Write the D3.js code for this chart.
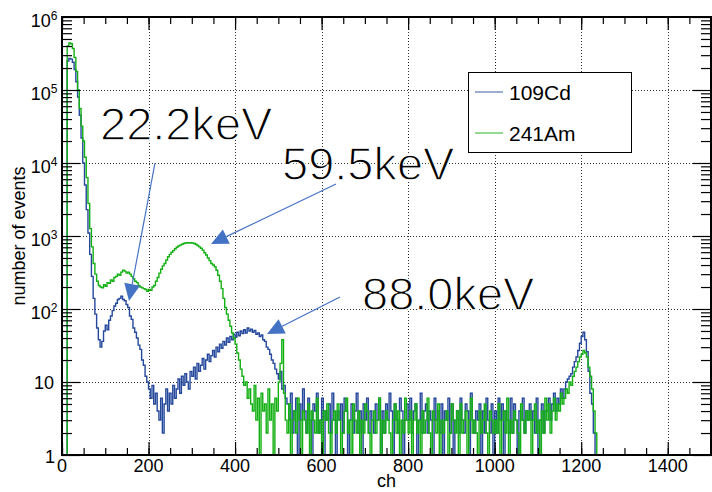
<!DOCTYPE html>
<html><head><meta charset="utf-8">
<script src="https://cdn.jsdelivr.net/npm/d3@7"></script>
<style>body{margin:0;background:#fff}</style>
</head><body>
<svg id="c" width="712" height="492"></svg>
<script>
// ---------- data ----------
const binWidth = 4;           // channels per bin (bin i starts at i*binWidth)
const xMax = 1500;
const seriesNames = ["109Cd", "241Am"];
const seriesColors = ["#25489c", "#12b012"];

const cdCounts = [
  0,0,0,2.5e5,2.7e5,2.65e5,2.4e5,1.9e5,1.3e5,8.0e4,
  4.5e4,2.2e4,1.0e4,5.0e3,2.3e3,1.1e3,560,280,140,85,
  55,38,30,36,50,60,52,70,80,95,
  110,120,135,140,150,135,130,115,105,80,
  72,55,48,40,32,28,20,17,12,10,
  8,6,9,5,7,4,3,6,2,5,
  8,4,7,5,9,6,8,11,7,12,
  9,13,10,8,14,12,16,11,18,14,
  17,21,15,20,24,19,23,27,22,30,
  26,33,29,36,32,40,35,42,38,45,
  41,48,43,50,46,52,47,55,50,53,
  48,51,45,47,42,44,38,36,30,28,
  24,20,18,15,13,11,14,8,9,6,
  5,3,7,2,4,6,1,5,3,8,
  4,2,6,3,1,5,4,7,2,3,
  6,1,4,3,5,2,7,3,1,4,
  3,5,2,6,4,1,3,5,2,4,
  7,2,4,1,5,3,6,2,4,3,
  2,5,3,6,1,4,2,5,3,7,
  4,1,5,3,2,6,4,1,3,5,
  3,6,2,4,5,1,3,7,2,4,
  5,2,4,3,1,6,3,4,2,5,
  1,4,3,6,2,5,1,3,4,2,
  6,3,2,5,4,1,7,3,2,4,
  3,5,1,4,2,6,3,2,5,1,
  4,2,6,3,5,1,4,3,2,6,
  2,5,3,1,4,3,6,2,4,3,
  5,3,4,2,6,1,3,5,2,4,
  4,6,3,5,7,4,6,5,8,6,
  8,10,11,12,13,16,19,22,27,34,
  42,48,38,26,14,7,5,2,1,0,
  0
];

const amCounts = [
  0,0,0,4.0e5,4.4e5,4.3e5,3.7e5,2.8e5,1.8e5,1.0e5,
  5.6e4,3.2e4,2.0e4,1.2e4,6.3e3,2.8e3,1.26e3,710,420,300,
  240,210,200,195,215,205,230,225,250,240,
  270,280,300,290,320,340,330,310,320,300,
  280,260,240,230,210,200,195,190,185,175,
  185,180,200,210,240,270,310,350,390,420,
  470,520,560,600,630,670,700,730,750,770,
  790,800,810,800,810,800,790,770,740,710,
  680,640,590,550,500,460,420,400,380,340,
  290,240,190,140,105,85,70,58,47,40,
  33,25,20,15,12,9,10,6,8,5,
  4,9,3,6,1,7,4,5,2,8,
  3,5,1,6,4,10,18,38,7,3,
  2,5,1,3,4,2,6,3,1,4,
  3,2,5,1,4,3,2,6,2,3,
  1,4,3,5,2,1,3,4,2,5,
  3,1,2,4,6,2,3,1,5,3,
  2,4,1,3,2,5,4,2,1,3,
  4,2,3,6,1,3,2,4,3,2,
  1,3,5,2,4,1,3,2,6,3,
  2,4,1,3,5,2,3,1,4,2,
  3,6,2,1,4,3,2,5,1,3,
  2,3,4,1,2,5,3,2,4,1,
  5,2,3,4,1,3,6,2,3,2,
  1,4,2,3,5,2,1,4,3,2,
  3,2,5,1,3,4,2,6,1,3,
  2,4,3,2,1,5,3,2,4,3,
  4,1,3,5,2,3,1,4,2,6,
  3,5,2,4,6,3,5,4,7,5,
  6,8,7,10,9,12,14,16,19,22,
  24,27,25,22,16,12,8,4,2,1,
  0
];

const xTickValues = [0,200,400,600,800,1000,1200,1400];
const yTickExponents = [0,1,2,3,4,5,6];
const annotationTexts = ["22.2keV", "59.5keV", "88.0keV"];

// ---------- layout ----------
const svg = d3.select("#c");
const L = 62, R = 711, T = 17, B = 455;
const x = d3.scaleLinear().domain([0, xMax]).range([L, R]);
const y = d3.scaleLog().domain([1, 1e6]).range([B, T]);
const FONT = "'Liberation Sans', Arial, Helvetica, sans-serif";

svg.append("rect").attr("width", 712).attr("height", 492).attr("fill", "#fff");

// grid
const gridG = svg.append("g").attr("stroke", "#333").attr("stroke-width", 1)
  .attr("stroke-dasharray", "1,2");
xTickValues.filter(v => v > 0).forEach(v => {
  const px = Math.round(x(v)) + 0.5;
  gridG.append("line").attr("x1", px).attr("x2", px).attr("y1", T).attr("y2", B);
});
yTickExponents.filter(e => e > 0 && e < 6).forEach(e => {
  const py = Math.round(y(Math.pow(10, e))) + 0.5;
  gridG.append("line").attr("x1", L).attr("x2", R).attr("y1", py).attr("y2", py);
});

// data
svg.append("clipPath").attr("id", "clip").append("rect")
  .attr("x", L).attr("y", T).attr("width", R - L).attr("height", B - T + 1);

function toPoints(arr) {
  const pts = arr.map((v, i) => ({ ch: i * binWidth, v }));
  pts.push({ ch: xMax, v: 0 });
  return pts;
}
const line = d3.line()
  .x(d => x(d.ch))
  .y(d => y(Math.max(d.v, 1)))
  .curve(d3.curveStepAfter);

const dataG = svg.append("g").attr("clip-path", "url(#clip)");
[cdCounts, amCounts].forEach((arr, k) => {
  dataG.append("path").datum(toPoints(arr))
    .attr("d", line)
    .attr("fill", "none")
    .attr("stroke", seriesColors[k])
    .attr("stroke-width", 1.4);
});

// axes (ticks inside)
const minorX = d3.range(0, xMax + 1, 50);
const majorY = yTickExponents.map(e => Math.pow(10, e));
const minorY = [];
for (let e = 0; e < 6; e++) for (let m = 2; m <= 9; m++) minorY.push(m * Math.pow(10, e));

function styleAxis(g) {
  g.select(".domain").remove();
  g.selectAll("line").attr("stroke", "#000").attr("stroke-width", 1.2);
  g.selectAll("text").remove();
}
svg.append("g").attr("transform", `translate(0,${B})`)
  .call(d3.axisBottom(x).tickValues(minorX).tickSize(-7)).call(styleAxis);
svg.append("g").attr("transform", `translate(0,${B})`)
  .call(d3.axisBottom(x).tickValues(xTickValues).tickSize(-13)).call(styleAxis);
svg.append("g").attr("transform", `translate(0,${T})`)
  .call(d3.axisTop(x).tickValues(minorX).tickSize(-7)).call(styleAxis);
svg.append("g").attr("transform", `translate(0,${T})`)
  .call(d3.axisTop(x).tickValues(xTickValues).tickSize(-13)).call(styleAxis);
svg.append("g").attr("transform", `translate(${L},0)`)
  .call(d3.axisLeft(y).tickValues(minorY).tickSize(-10)).call(styleAxis);
svg.append("g").attr("transform", `translate(${L},0)`)
  .call(d3.axisLeft(y).tickValues(majorY).tickSize(-18)).call(styleAxis);
svg.append("g").attr("transform", `translate(${R},0)`)
  .call(d3.axisRight(y).tickValues(minorY).tickSize(-10)).call(styleAxis);
svg.append("g").attr("transform", `translate(${R},0)`)
  .call(d3.axisRight(y).tickValues(majorY).tickSize(-18)).call(styleAxis);

// frame
svg.append("rect").attr("x", L).attr("y", T).attr("width", R - L).attr("height", B - T)
  .attr("fill", "none").attr("stroke", "#000").attr("stroke-width", 2);

// tick labels
xTickValues.forEach(v => {
  svg.append("text").attr("x", x(v)).attr("y", 472)
    .attr("text-anchor", "middle").attr("font-family", FONT).attr("font-size", 18)
    .attr("fill", "#000").text(v);
});
yTickExponents.forEach(e => {
  const py = y(Math.pow(10, e));
  const t = svg.append("text").attr("font-family", FONT).attr("font-size", 18)
    .attr("fill", "#000").attr("text-anchor", "end");
  if (e === 0) { t.attr("x", 55).attr("y", py + 8).text("1"); }
  else if (e === 1) { t.attr("x", 54).attr("y", py + 7).text("10"); }
  else {
    t.attr("x", 57.5).attr("y", py + 9.5);
    t.append("tspan").text("10");
    t.append("tspan").attr("font-size", 12).attr("dy", -7).text(e);
  }
});

// axis titles
svg.append("text").attr("x", (L + R) / 2).attr("y", 487).attr("text-anchor", "middle")
  .attr("font-family", FONT).attr("font-size", 18).text("ch");
svg.append("text").attr("transform", `translate(25,${(T + B) / 2}) rotate(-90)`)
  .attr("text-anchor", "middle").attr("font-family", FONT).attr("font-size", 18)
  .text("number of events");

// legend
const lg = svg.append("g");
lg.append("rect").attr("x", 468.5).attr("y", 72.5).attr("width", 163).attr("height", 80)
  .attr("fill", "#fff").attr("stroke", "#000").attr("stroke-width", 1);
seriesNames.forEach((name, k) => {
  const ly = k === 0 ? 92 : 133;
  lg.append("line").attr("x1", 475).attr("x2", 503).attr("y1", ly).attr("y2", ly)
    .attr("stroke", seriesColors[k]).attr("stroke-width", 1.2).attr("opacity", 0.75);
  lg.append("text").attr("x", 509).attr("y", ly + 7.5).attr("font-family", FONT)
    .attr("font-size", 21).attr("fill", "#000").text(name);
});

// annotations
const annoPos = [[100, 140], [282, 180], [362, 310]];
annotationTexts.forEach((t, i) => {
  svg.append("text").attr("x", annoPos[i][0]).attr("y", annoPos[i][1])
    .attr("font-family", FONT).attr("font-size", 47).attr("fill", "#000")
    .attr("stroke", "#fff").attr("stroke-width", 1.3).text(t);
});
const arrows = [
  [[155, 163], [129, 301]],
  [[336, 184], [211, 244]],
  [[340, 297], [267, 334]]
];
const AC = "#4472c4";
arrows.forEach(([s, e]) => {
  const dx = e[0] - s[0], dy = e[1] - s[1];
  const len = Math.hypot(dx, dy), ux = dx / len, uy = dy / len;
  const hl = 17, hw = 8;
  const bx = e[0] - ux * hl, by = e[1] - uy * hl;
  svg.append("line").attr("x1", s[0]).attr("y1", s[1]).attr("x2", bx).attr("y2", by)
    .attr("stroke", AC).attr("stroke-width", 1.2);
  svg.append("polygon").attr("points", [
    [e[0], e[1]],
    [bx - uy * hw, by + ux * hw],
    [bx + uy * hw, by - ux * hw]
  ].map(p => p.join(",")).join(" ")).attr("fill", AC);
});
</script>
</body></html>
